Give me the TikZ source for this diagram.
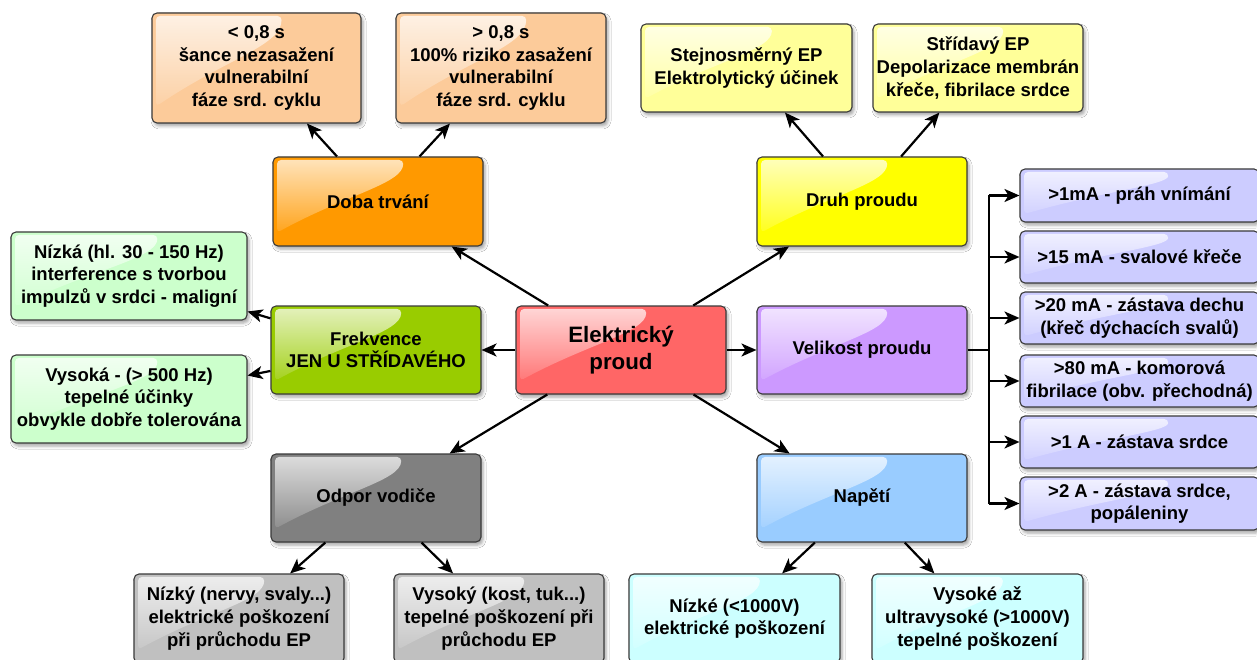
\documentclass[tikz,border=0pt]{standalone}
\usepackage{fontspec}
\setmainfont{Liberation Sans}
\usetikzlibrary{arrows.meta,calc,shadows.blur,fadings}

\definecolor{cPeach}{HTML}{FCCB9A}
\definecolor{cOrange}{HTML}{FF9900}
\definecolor{cPaleYellow}{HTML}{FFFF99}
\definecolor{cYellow}{HTML}{FFFF00}
\definecolor{cPaleGreen}{HTML}{CCFFCC}
\definecolor{cGreen}{HTML}{99CC00}
\definecolor{cRed}{HTML}{FF6666}
\definecolor{cViolet}{HTML}{CC99FF}
\definecolor{cLavender}{HTML}{CCCCFF}
\definecolor{cGray}{HTML}{808080}
\definecolor{cSilver}{HTML}{C0C0C0}
\definecolor{cBlue}{HTML}{99CCFF}
\definecolor{cPaleCyan}{HTML}{CCFFFF}
\definecolor{cBorder}{HTML}{3A3A3A}

\tikzfading[name=glossfade, top color=transparent!25, bottom color=transparent!100]

\begin{document}
\begin{tikzpicture}[x=1pt,y=-1pt,
  box/.style n args={2}{draw=cBorder, line width=1.1pt, rounded corners=5pt,
    inner sep=0pt, align=center, text=black,
    minimum width=#1pt, minimum height=#2pt,
    font=\bfseries\fontsize{18.5}{22.7}\selectfont,
    blur shadow={shadow xshift=2pt, shadow yshift=-3pt,
                 shadow blur radius=3pt, shadow opacity=35},
    path picture={
      \fill[white, path fading=glossfade, rounded corners=4pt]
        ([shift={(4pt,-3pt)}]path picture bounding box.north west)
        -- ([shift={({0.62*#1pt},-3pt)}]path picture bounding box.north west)
        .. controls ([shift={({0.62*#1pt},{-0.30*#2pt})}]path picture bounding box.north west)
               and ([shift={({0.35*#1pt},{-0.42*#2pt})}]path picture bounding box.north west)
        .. ([shift={(4pt,{-0.85*#2pt})}]path picture bounding box.north west)
        -- cycle;}},
  arr/.style={draw=black, line width=2.2pt,
    -{Stealth[length=15pt,width=13pt,inset=4pt]}},
  link/.style={draw=black, line width=2.2pt}]

\fill[white] (0,0) rectangle (1257,660);
\useasboundingbox (0,0) rectangle (1257,660);

% centre
\node[box={210}{88}, fill=cRed, font=\bfseries\fontsize{22.3}{27}\selectfont]
  (ep) at (621,350) {Elektrický\\proud};

% first level
\node[box={210}{89}, fill=cOrange] (doba) at (378,201.5) {Doba trvání};
\node[box={210}{89}, fill=cYellow] (druh) at (862,201.5) {Druh proudu};
\node[box={210}{88}, fill=cGreen] (frek) at (376,350) {Frekvence\\JEN U STŘÍDAVÉHO};
\node[box={210}{88}, fill=cViolet] (vel) at (862,350) {Velikost proudu};
\node[box={210}{88}, fill=cGray] (odpor) at (376,498) {Odpor vodiče};
\node[box={210}{88}, fill=cBlue] (nap) at (862,498) {Napětí};

% duration
\node[box={209}{110}, fill=cPeach] (kratka) at (256.5,68)
  {< 0,8 s\\šance nezasažení\\vulnerabilní\\fáze srd. cyklu};
\node[box={210}{110}, fill=cPeach] (dlouha) at (501,68)
  {> 0,8 s\\100\% riziko zasažení\\vulnerabilní\\fáze srd. cyklu};

% kind of current
\node[box={211}{88}, fill=cPaleYellow] (ss) at (746.5,68)
  {Stejnosměrný EP\\Elektrolytický účinek};
\node[box={210}{88}, fill=cPaleYellow] (st) at (978,68)
  {Střídavý EP\\Depolarizace membrán\\křeče, fibrilace srdce};

% frequency
\node[box={236}{88}, fill=cPaleGreen] (nizka) at (129,276)
  {Nízká (hl. 30 - 150 Hz)\\interference s tvorbou\\impulzů v srdci - maligní};
\node[box={236}{88}, fill=cPaleGreen] (vysoka) at (129,399)
  {Vysoká - (> 500 Hz)\\tepelné účinky\\obvykle dobře tolerována};

% resistance
\node[box={210}{89}, fill=cSilver] (rniz) at (239,618.5)
  {Nízký (nervy, svaly...)\\elektrické poškození\\při průchodu EP};
\node[box={210}{89}, fill=cSilver] (rvys) at (499,618.5)
  {Vysoký (kost, tuk...)\\tepelné poškození při\\průchodu EP};

% voltage
\node[box={211}{89}, fill=cPaleCyan] (unn) at (734.5,618.5)
  {Nízké (<1000V)\\elektrické poškození};
\node[box={211}{89}, fill=cPaleCyan] (unv) at (977.5,618.5)
  {Vysoké až\\ultravysoké (>1000V)\\tepelné poškození};

% magnitude of current
\node[box={239}{53}, fill=cLavender] (i1) at (1139.5,195.5) {>1mA - práh vnímání};
\node[box={239}{52}, fill=cLavender] (i2) at (1139.5,257) {>15 mA - svalové křeče};
\node[box={239}{52}, fill=cLavender] (i3) at (1139.5,318)
  {>20 mA - zástava dechu\\(křeč dýchacích svalů)};
\node[box={239}{52}, fill=cLavender] (i4) at (1139.5,381)
  {>80 mA - komorová\\fibrilace (obv. přechodná)};
\node[box={239}{52}, fill=cLavender] (i5) at (1139.5,442) {>1 A - zástava srdce};
\node[box={239}{53}, fill=cLavender] (i6) at (1139.5,503.5)
  {>2 A - zástava srdce,\\popáleniny};

% connectors
\draw[arr] (ep) -- (doba);
\draw[arr] (ep) -- (druh);
\draw[arr] (ep) -- (frek);
\draw[arr] (ep) -- (vel);
\draw[arr] (ep) -- (odpor);
\draw[arr] (ep) -- (nap);

\draw[arr] (doba) -- (kratka);
\draw[arr] (doba) -- (dlouha);
\draw[arr] (druh) -- (ss);
\draw[arr] (druh) -- (st);
\draw[arr] (frek) -- (nizka);
\draw[arr] (frek) -- (vysoka);
\draw[arr] (odpor) -- (rniz);
\draw[arr] (odpor) -- (rvys);
\draw[arr] (nap) -- (unn);
\draw[arr] (nap) -- (unv);

\coordinate (bus) at (989,350);
\draw[link] (vel.east) -- (bus);
\draw[link] (bus |- i1.west) -- (bus |- i6.west);
\foreach \n in {i1,i2,i3,i4,i5,i6}
  \draw[arr] (bus |- \n.west) -- (\n.west);

\end{tikzpicture}
\end{document}
